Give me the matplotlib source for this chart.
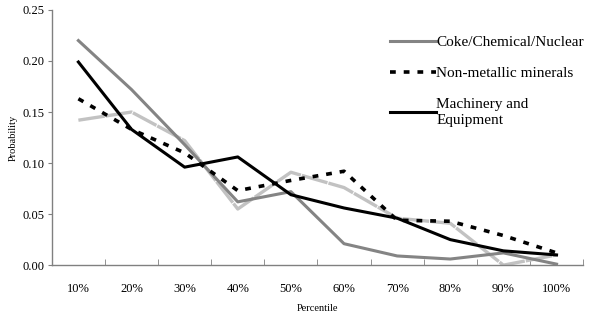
import matplotlib
matplotlib.use("Agg")
import matplotlib.pyplot as plt
from matplotlib.ticker import FixedLocator, NullFormatter

# Datos
percentiles = ["10%", "20%", "30%", "40%", "50%", "60%", "70%", "80%", "90%", "100%"]
coke = [0.220, 0.172, 0.118, 0.062, 0.072, 0.021, 0.009, 0.006, 0.012, 0.001]
non_metallic = [0.163, 0.133, 0.110, 0.073, 0.083, 0.092, 0.044, 0.043, 0.029, 0.012]
machinery = [0.199, 0.133, 0.096, 0.106, 0.069, 0.056, 0.046, 0.025, 0.014, 0.010]
otra = [0.142, 0.150, 0.122, 0.055, 0.091, 0.076, 0.046, 0.041, 0.000, 0.010]

plt.rcParams["font.family"] = ["Liberation Serif", "DejaVu Serif"]

fig = plt.figure(figsize=(5.89, 3.21), dpi=100)
ax = fig.add_axes([0.088, 0.174, 0.902, 0.795])

x = list(range(1, len(percentiles) + 1))
ax.plot(x, otra, color="#c2c2c2", lw=2.4, dashes=(8, 0.3), zorder=2)
ax.plot(x, coke, color="#848484", lw=2.2, label="Coke/Chemical/Nuclear", zorder=3)
ax.plot(x, non_metallic, color="black", lw=2.6, dashes=(1.6, 2.2),
        label="Non-metallic minerals", zorder=4)
ax.plot(x, machinery, color="black", lw=2.2, label="Machinery and\nEquipment", zorder=5)

ax.set_xlim(0.5, len(percentiles) + 0.5)
ax.set_ylim(0, 0.25)
ax.set_yticks([0, 0.05, 0.10, 0.15, 0.20, 0.25])
ax.set_yticklabels([f"{v:.2f}" for v in [0, 0.05, 0.10, 0.15, 0.20, 0.25]])
ax.set_xticks(x)
ax.set_xticklabels(percentiles)
ax.xaxis.set_minor_locator(FixedLocator([i + 0.5 for i in range(0, len(percentiles) + 1)]))
ax.xaxis.set_minor_formatter(NullFormatter())
ax.tick_params(axis="x", which="major", length=0, pad=13, labelsize=9)
ax.tick_params(axis="x", which="minor", length=4, direction="in", color="#808080")
ax.tick_params(axis="y", length=3, direction="out", color="#808080", labelsize=9, pad=2)

for s in ["top", "right"]:
    ax.spines[s].set_visible(False)
for s in ["left", "bottom"]:
    ax.spines[s].set_color("#808080")
    ax.spines[s].set_linewidth(1.0)

ax.set_ylabel("Probability", fontsize=7.5, labelpad=4)
ax.set_xlabel("Percentile", fontsize=7.5, labelpad=6)

leg = ax.legend(loc="upper left", bbox_to_anchor=(0.636, 0.90), frameon=False,
                fontsize=11, handlelength=3.0, handletextpad=0.05,
                labelspacing=1.15, borderaxespad=0, borderpad=0)
for t in leg.get_texts():
    t.set_linespacing(1.35)

fig.savefig("out.png", dpi=100)
